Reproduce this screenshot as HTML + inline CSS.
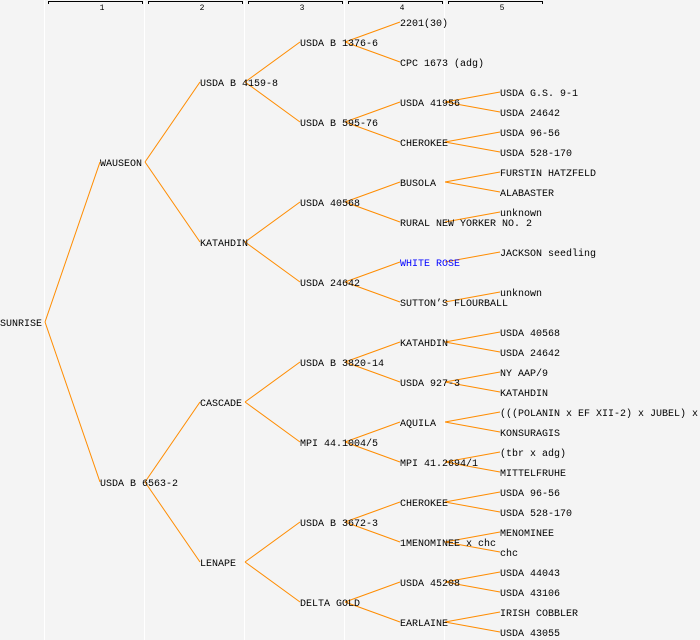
<!DOCTYPE html>
<html><head><meta charset="utf-8"><style>
html,body{margin:0;padding:0;background:#f4f4f4}
svg{display:block}
text{font-family:"Liberation Mono",monospace;font-size:10px;fill:#000}
</style></head><body>
<svg width="700" height="640" viewBox="0 0 700 640" xmlns="http://www.w3.org/2000/svg">
<rect width="700" height="640" fill="#f4f4f4"/>
<g stroke="#fff" stroke-width="1">
<line x1="44.5" y1="0" x2="44.5" y2="640"/><line x1="144.5" y1="0" x2="144.5" y2="640"/><line x1="244.5" y1="0" x2="244.5" y2="640"/><line x1="344.5" y1="0" x2="344.5" y2="640"/><line x1="444.5" y1="0" x2="444.5" y2="640"/>
</g>
<g stroke="#000" stroke-width="1" fill="none">
<path d="M48.5 4V1.5H142.5V4"/><path d="M148.5 4V1.5H242.5V4"/><path d="M248.5 4V1.5H342.5V4"/><path d="M348.5 4V1.5H442.5V4"/><path d="M448.5 4V1.5H542.5V4"/>
</g>
<g style="font-size:8px" text-anchor="middle">
<text x="102" y="10" style="font-size:8px">1</text><text x="202" y="10" style="font-size:8px">2</text><text x="302" y="10" style="font-size:8px">3</text><text x="402" y="10" style="font-size:8px">4</text><text x="502" y="10" style="font-size:8px">5</text>
</g>
<g stroke="#ff8c00" stroke-width="1" fill="none">
<line x1="45" y1="322" x2="100" y2="162"/><line x1="45" y1="322" x2="100" y2="482"/>
<line x1="145" y1="162" x2="200" y2="82"/><line x1="145" y1="162" x2="200" y2="242"/>
<line x1="145" y1="482" x2="200" y2="402"/><line x1="145" y1="482" x2="200" y2="562"/>
<line x1="245" y1="82" x2="300" y2="42"/><line x1="245" y1="82" x2="300" y2="122"/>
<line x1="245" y1="242" x2="300" y2="202"/><line x1="245" y1="242" x2="300" y2="282"/>
<line x1="245" y1="402" x2="300" y2="362"/><line x1="245" y1="402" x2="300" y2="442"/>
<line x1="245" y1="562" x2="300" y2="522"/><line x1="245" y1="562" x2="300" y2="602"/>
<line x1="345" y1="42" x2="400" y2="22"/><line x1="345" y1="42" x2="400" y2="62"/>
<line x1="345" y1="122" x2="400" y2="102"/><line x1="345" y1="122" x2="400" y2="142"/>
<line x1="345" y1="202" x2="400" y2="182"/><line x1="345" y1="202" x2="400" y2="222"/>
<line x1="345" y1="282" x2="400" y2="262"/><line x1="345" y1="282" x2="400" y2="302"/>
<line x1="345" y1="362" x2="400" y2="342"/><line x1="345" y1="362" x2="400" y2="382"/>
<line x1="345" y1="442" x2="400" y2="422"/><line x1="345" y1="442" x2="400" y2="462"/>
<line x1="345" y1="522" x2="400" y2="502"/><line x1="345" y1="522" x2="400" y2="542"/>
<line x1="345" y1="602" x2="400" y2="582"/><line x1="345" y1="602" x2="400" y2="622"/>
<line x1="445" y1="102" x2="500" y2="92"/><line x1="445" y1="102" x2="500" y2="112"/>
<line x1="445" y1="142" x2="500" y2="132"/><line x1="445" y1="142" x2="500" y2="152"/>
<line x1="445" y1="182" x2="500" y2="172"/><line x1="445" y1="182" x2="500" y2="192"/>
<line x1="445" y1="222" x2="500" y2="212"/>
<line x1="445" y1="262" x2="500" y2="252"/>
<line x1="445" y1="302" x2="500" y2="292"/>
<line x1="445" y1="342" x2="500" y2="332"/><line x1="445" y1="342" x2="500" y2="352"/>
<line x1="445" y1="382" x2="500" y2="372"/><line x1="445" y1="382" x2="500" y2="392"/>
<line x1="445" y1="422" x2="500" y2="412"/><line x1="445" y1="422" x2="500" y2="432"/>
<line x1="445" y1="462" x2="500" y2="452"/><line x1="445" y1="462" x2="500" y2="472"/>
<line x1="445" y1="502" x2="500" y2="492"/><line x1="445" y1="502" x2="500" y2="512"/>
<line x1="445" y1="542" x2="500" y2="532"/><line x1="445" y1="542" x2="500" y2="552"/>
<line x1="445" y1="582" x2="500" y2="572"/><line x1="445" y1="582" x2="500" y2="592"/>
<line x1="445" y1="622" x2="500" y2="612"/><line x1="445" y1="622" x2="500" y2="632"/>
</g>
<g>
<text x="0" y="326">SUNRISE</text>
<text x="100" y="166">WAUSEON</text><text x="100" y="486">USDA B 6563-2</text>
<text x="200" y="86">USDA B 4159-8</text><text x="200" y="246">KATAHDIN</text><text x="200" y="406">CASCADE</text><text x="200" y="566">LENAPE</text>
<text x="300" y="46">USDA B 1376-6</text><text x="300" y="126">USDA B 595-76</text><text x="300" y="206">USDA 40568</text><text x="300" y="286">USDA 24642</text><text x="300" y="366">USDA B 3820-14</text><text x="300" y="446">MPI 44.1004/5</text><text x="300" y="526">USDA B 3672-3</text><text x="300" y="606">DELTA GOLD</text>
<text x="400" y="26">2201(30)</text><text x="400" y="66">CPC 1673 (adg)</text><text x="400" y="106">USDA 41956</text><text x="400" y="146">CHEROKEE</text><text x="400" y="186">BUSOLA</text><text x="400" y="226">RURAL NEW YORKER NO. 2</text><text x="400" y="266" style="fill:#0000ff">WHITE ROSE</text><text x="400" y="306">SUTTON’S FLOURBALL</text><text x="400" y="346">KATAHDIN</text><text x="400" y="386">USDA 927-3</text><text x="400" y="426">AQUILA</text><text x="400" y="466">MPI 41.2694/1</text><text x="400" y="506">CHEROKEE</text><text x="400" y="546">1MENOMINEE x chc</text><text x="400" y="586">USDA 45208</text><text x="400" y="626">EARLAINE</text>
<text x="500" y="96">USDA G.S. 9-1</text><text x="500" y="116">USDA 24642</text><text x="500" y="136">USDA 96-56</text><text x="500" y="156">USDA 528-170</text><text x="500" y="176">FURSTIN HATZFELD</text><text x="500" y="196">ALABASTER</text><text x="500" y="216">unknown</text><text x="500" y="256">JACKSON seedling</text><text x="500" y="296">unknown</text><text x="500" y="336">USDA 40568</text><text x="500" y="356">USDA 24642</text><text x="500" y="376">NY AAP/9</text><text x="500" y="396">KATAHDIN</text><text x="500" y="416">(((POLANIN x EF XII-2) x JUBEL) x</text><text x="500" y="436">KONSURAGIS</text><text x="500" y="456">(tbr x adg)</text><text x="500" y="476">MITTELFRUHE</text><text x="500" y="496">USDA 96-56</text><text x="500" y="516">USDA 528-170</text><text x="500" y="536">MENOMINEE</text><text x="500" y="556">chc</text><text x="500" y="576">USDA 44043</text><text x="500" y="596">USDA 43106</text><text x="500" y="616">IRISH COBBLER</text><text x="500" y="636">USDA 43055</text>
</g>
</svg>
</body></html>
